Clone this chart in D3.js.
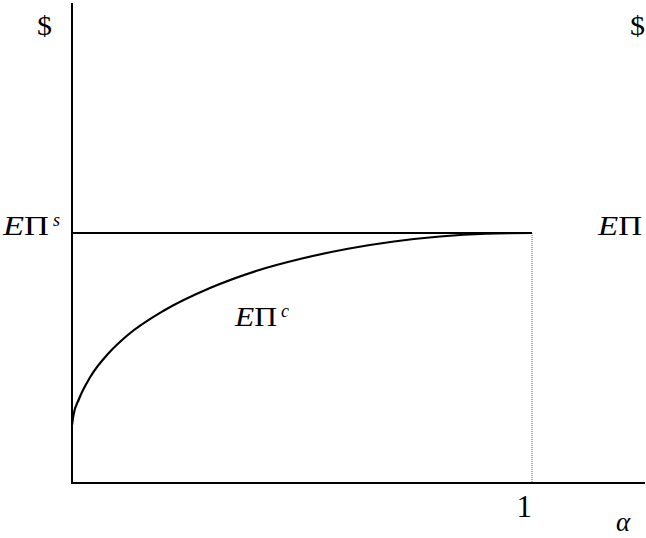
<!DOCTYPE html>
<html><head><meta charset="utf-8">
<script src="https://cdn.jsdelivr.net/npm/d3@7"></script>
<style>body{margin:0;background:#fff}svg{display:block}svg text{font-family:"Liberation Serif","DejaVu Serif",serif}</style>
</head><body><svg id="c" width="646" height="538"></svg>
<script>
// data: alpha share vs expected profit (EΠ^s normalized to 1)
const alphaValues = [0, 0.003, 0.015, 0.04, 0.08, 0.12, 0.2, 0.3, 0.4, 0.5, 0.6, 0.7, 0.8, 0.9, 1];
const profitC     = [0.232, 0.27, 0.335, 0.425, 0.52, 0.59, 0.69, 0.78, 0.848, 0.898, 0.937, 0.966, 0.986, 0.997, 1];
const profitS = 1;
const xTickLabels = ["1"];

const svg = d3.select("#c");
const x = d3.scaleLinear().domain([0, 1]).range([72, 532]);
const y = d3.scaleLinear().domain([0, 1]).range([483, 233]);

// axes
svg.append("line").attr("x1",72).attr("x2",72).attr("y1",3).attr("y2",484).attr("stroke","#000").attr("stroke-width",2);
svg.append("line").attr("x1",71).attr("x2",645).attr("y1",483).attr("y2",483).attr("stroke","#000").attr("stroke-width",2);

// EΠ^s horizontal
svg.append("line").attr("x1",x(0)).attr("x2",x(1)).attr("y1",y(profitS)).attr("y2",y(profitS)).attr("stroke","#000").attr("stroke-width",2);
// dotted drop line at alpha=1
svg.append("line").attr("x1",x(1)).attr("x2",x(1)).attr("y1",y(profitS)).attr("y2",y(0)).attr("stroke","#666").attr("stroke-width",1).attr("stroke-dasharray","1,1");

// curve
const pts = alphaValues.map((a,i)=>[a, profitC[i]]);
svg.append("path").attr("d", d3.line().x(d=>x(d[0])).y(d=>y(d[1])).curve(d3.curveMonotoneX)(pts))
  .attr("fill","none").attr("stroke","#000").attr("stroke-width",2.2);

// labels
svg.append("text").attr("x",37).attr("y",35).style("font-size","28px")
  .attr("textLength",15).attr("lengthAdjust","spacingAndGlyphs").text("$");
svg.append("text").attr("x",630).attr("y",35).style("font-size","28px")
  .attr("textLength",15).attr("lengthAdjust","spacingAndGlyphs").text("$");

function epi(xp, yp, w, sup){
  const g = svg.append("g");
  const t = g.append("text").attr("x",xp).attr("y",yp).style("font-size","28px")
    .attr("textLength",w).attr("lengthAdjust","spacingAndGlyphs");
  t.append("tspan").style("font-style","italic").text("E");
  t.append("tspan").text("Π");
  if (sup) g.append("text").attr("x",xp+w+4).attr("y",yp-9).style("font-size","18px").style("font-style","italic").text(sup);
}
epi(3, 235, 46, "s");
epi(598, 235, 44, null);
epi(235, 326, 42, "c");

svg.selectAll(".xt").data(xTickLabels).enter().append("text").attr("class","xt")
  .attr("x", x(1)).attr("y",517).attr("text-anchor","end").style("font-size","31px").text(d=>d);
svg.append("text").attr("x",616).attr("y",531).style("font-size","27px").style("font-style","italic").text("α");
</script></body></html>
